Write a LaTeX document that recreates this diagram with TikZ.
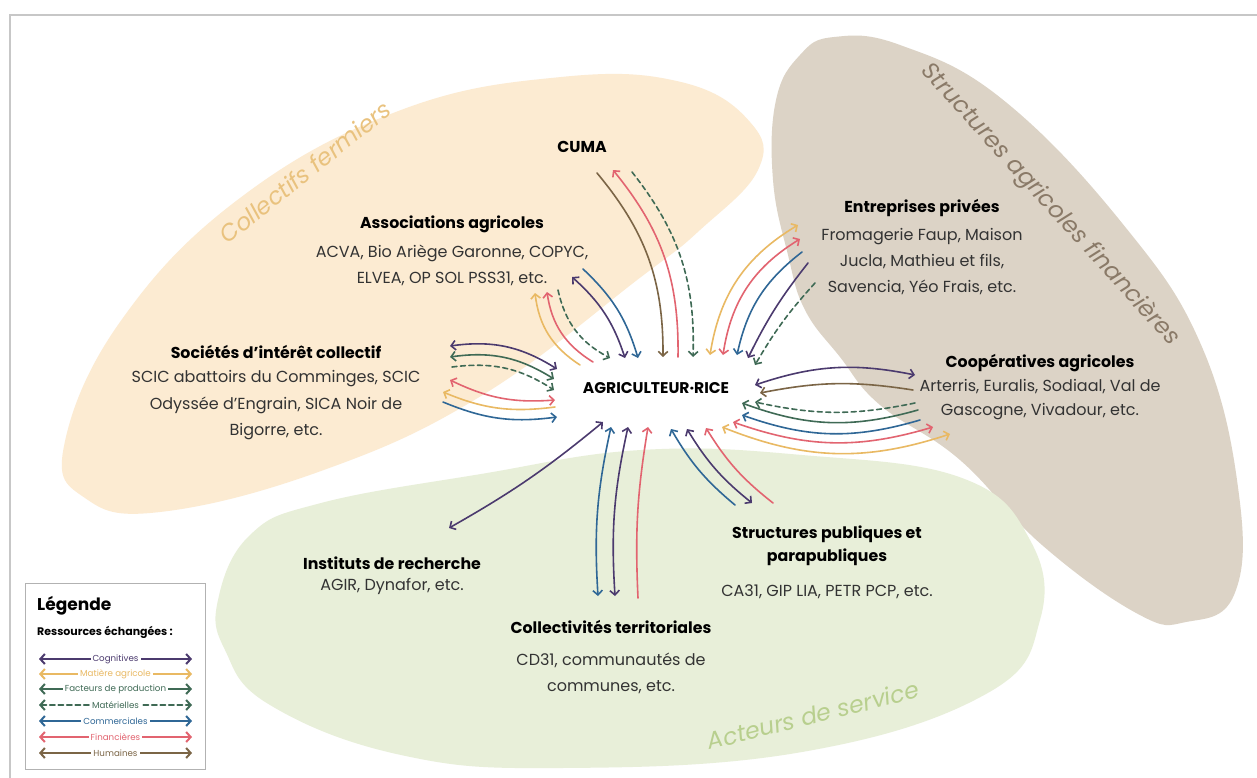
\documentclass[tikz,border=0pt]{standalone}
\usepackage{fontspec}
\setmainfont{Poppins}
\usetikzlibrary{arrows.meta}
\definecolor{cpur}{HTML}{4B3A6E}
\definecolor{cyel}{HTML}{E9B963}
\definecolor{cgrn}{HTML}{3F6A55}
\definecolor{cblu}{HTML}{2F6796}
\definecolor{cred}{HTML}{E26470}
\definecolor{cbrn}{HTML}{7B6546}
\definecolor{ctext}{HTML}{333333}
\definecolor{zbeige}{HTML}{FCEBD2}
\definecolor{zgray}{HTML}{DCD3C6}
\definecolor{zgreen}{HTML}{E8EFD9}
\definecolor{tbeige}{HTML}{E9C27E}
\definecolor{tgray}{HTML}{8A7A68}
\definecolor{tgreen}{HTML}{B8CF8E}
\newcommand\conn[5]{%
  \coordinate (#2a) at (#3); \coordinate (#2b) at (#4);
  \draw[#1] (#2a) to[#5] (#2b);}
\begin{document}
\begin{tikzpicture}[x=1pt,y=1pt,
  cn/.style={line width=1.6pt, line cap=round,
    >={Straight Barb[length=4.5pt,width=9.5pt,line width=1.6pt]}},
  aPur/.style={cn,draw=cpur},
  aYel/.style={cn,draw=cyel},
  aGrn/.style={cn,draw=cgrn},
  aBlu/.style={cn,draw=cblu},
  aRed/.style={cn,draw=cred},
  aBrn/.style={cn,draw=cbrn},
  dsh/.style={dash pattern=on 5pt off 3.5pt},
  ttl/.style={font=\fontsize{15.8}{18}\selectfont\bfseries, text=black, inner sep=0pt},
  bdy/.style={font=\fontsize{16}{26.5}\selectfont, text=ctext, align=center, inner sep=0pt},
  zone/.style={font=\fontsize{23.5}{26}\selectfont\itshape, inner sep=0pt},
  lgl/.style={font=\fontsize{8.7}{10}\selectfont, fill=white, inner xsep=2pt, inner ysep=0pt},
  lga/.style={cn, line width=2pt, >={Straight Barb[length=4.5pt,width=10pt,line width=2pt]}}
]
\useasboundingbox (0,0) rectangle (1257,-777);
\fill[white] (0,0) rectangle (1257,-777);
\draw[black!22, line width=1.5pt] (10,-15) rectangle (1300,-820);

% zones
\fill[zbeige] plot[smooth cycle, tension=0.7] coordinates {
  (64,-446) (120,-322) (240,-198) (401,-110) (561,-77) (681,-82) (750,-122)
  (758,-170) (700,-230) (641,-277) (481,-396) (321,-471) (160,-512) (85,-498)};
\fill[zgray] plot[smooth cycle, tension=0.7] coordinates {
  (834,-37) (900,-45) (1002,-99) (1122,-223) (1202,-347) (1239,-495) (1234,-595)
  (1186,-622) (1138,-614) (1042,-545) (960,-460) (880,-405) (840,-357) (805,-310)
  (788,-255) (773,-180) (776,-100) (800,-55)};
\fill[zgreen] plot[smooth cycle, tension=0.7] coordinates {
  (218,-600) (250,-535) (321,-503) (481,-474) (641,-450) (802,-455) (962,-478)
  (1030,-540) (1040,-620) (986,-694) (802,-752) (561,-768) (401,-755) (270,-705) (225,-650)};

\node[zone, text=tbeige, rotate=38.6] (zcf) at (305,-172) {Collectifs fermiers};
\node[zone, text=tgray, rotate=-47.7] (zsa) at (1050,-205) {Structures agricoles financières};
\node[zone, text=tgreen, rotate=14] (zas) at (813,-715) {Acteurs de service};

% labels
\node[ttl, font=\fontsize{15.5}{18}\selectfont\bfseries] (agr) at (656,-388) {AGRICULTEUR·RICE};
\node[ttl] (cuma) at (582,-147) {CUMA};
\node[ttl] (assT) at (452,-224) {Associations agricoles};
\node[bdy] (ass) at (452,-265.5) {ACVA, Bio Ariège Garonne, COPYC,\\ELVEA, OP SOL PSS31, etc.};
\node[ttl] (socT) at (276,-352) {Sociétés d’intérêt collectif};
\node[bdy] (soc) at (276,-405.5) {SCIC abattoirs du Comminges, SCIC\\Odyssée d’Engrain, SICA Noir de\\Bigorre, etc.};
\node[ttl] (entT) at (922,-208) {Entreprises privées};
\node[bdy, font=\fontsize{16}{26}\selectfont] (ent) at (922,-262) {Fromagerie Faup, Maison\\Jucla, Mathieu et fils,\\Savencia, Yéo Frais, etc.};
\node[ttl] (coopT) at (1040,-363) {Coopératives agricoles};
\node[bdy, font=\fontsize{16}{24}\selectfont] (coop) at (1040,-400) {Arterris, Euralis, Sodiaal, Val de\\Gascogne, Vivadour, etc.};
\node[ttl] (instT) at (392,-563) {Instituts de recherche};
\node[bdy] (inst) at (392,-586) {AGIR, Dynafor, etc.};
\node[ttl, align=center, font=\fontsize{15.8}{23}\selectfont\bfseries] (pubT) at (827,-545.5) {Structures publiques et\\parapubliques};
\node[bdy] (pub) at (827,-592) {CA31, GIP LIA, PETR PCP, etc.};
\node[ttl] (colT) at (611,-627) {Collectivités territoriales};
\node[bdy, font=\fontsize{16}{26}\selectfont] (col) at (611,-673) {CD31, communautés de\\communes, etc.};

% CUMA
\conn{aBrn,->}{cu1}{597,-173}{663,-357}{bend left=20}
\conn{aRed,<-}{cu2}{613,-170}{678,-357}{bend left=20}
\conn{aGrn,dsh,->}{cu3}{632,-172}{693,-357}{bend left=20}
% Associations
\conn{aYel,<-}{as1}{535,-293}{580,-365}{bend right=25}
\conn{aRed,<-}{as2}{547,-292}{593,-362}{bend right=25}
\conn{aGrn,dsh,->}{as3}{558,-290}{610,-358}{bend right=25}
\conn{aPur,<->}{as4}{572,-277}{625,-358}{bend left=15}
\conn{aBlu,->}{as5}{583,-269}{638,-358}{bend left=15}
% Societes
\conn{aPur,<->}{so1}{450,-346}{557,-369}{bend left=20}
\conn{aGrn,<->}{so2}{450,-357}{554,-379}{bend left=20}
\conn{aGrn,dsh,->}{so3}{452,-367}{554,-390}{bend left=20}
\conn{aRed,<->}{so4}{450,-380}{555,-400}{bend right=15}
\conn{aYel,<-}{so5}{443,-392}{555,-407}{bend right=15}
\conn{aBlu,->}{so6}{443,-402}{557,-417}{bend right=15}
% Entreprises
\conn{aYel,<->}{en1}{798,-225}{710,-355}{bend right=25}
\conn{aRed,<->}{en2}{800,-239}{723,-355}{bend right=25}
\conn{aBlu,->}{en3}{802,-252}{737,-355}{bend right=20}
\conn{aPur,->}{en4}{808,-263}{748,-358}{bend right=6}
\conn{aGrn,dsh,->}{en5}{815,-283}{755,-365}{bend right=6}
% Cooperatives
\conn{aPur,<->}{co1}{915,-375}{755,-385}{bend right=15}
\conn{aBrn,->}{co2}{913,-390}{760,-393}{bend right=10}
\conn{aGrn,dsh,->}{co3}{915,-403}{755,-402}{bend left=12}
\conn{aGrn,->}{co4}{918,-410}{742,-403}{bend left=18}
\conn{aBlu,->}{co5}{920,-420}{742,-415}{bend left=18}
\conn{aRed,<->}{co6}{933,-427}{733,-422}{bend left=18}
\conn{aYel,<->}{co7}{950,-434}{722,-427}{bend left=20}
% Structures publiques
\conn{aBlu,->}{sp1}{735,-505}{671,-429}{bend left=10}
\conn{aPur,<->}{sp2}{752,-503}{687,-429}{bend left=10}
\conn{aRed,->}{sp3}{773,-503}{706,-428}{bend left=10}
% Instituts
\conn{aPur,<->}{in1}{449,-528}{603,-422}{bend right=5}
% Collectivites
\conn{aBlu,<->}{cl1}{598,-596}{611,-427}{bend left=8}
\conn{aPur,<->}{cl2}{615,-596}{628,-427}{bend left=8}
\conn{aRed,->}{cl3}{638,-598}{648,-427}{bend left=6}

% legend
\node[draw=black!30, fill=white, line width=0.8pt, minimum width=180pt, minimum height=186pt, inner sep=0pt] (lgbox) at (115,-676) {};
\node[anchor=west, inner sep=0pt, font=\fontsize{17}{20}\selectfont\bfseries] (lgT) at (37,-606) {Légende};
\node[anchor=west, inner sep=0pt, font=\fontsize{11}{13}\selectfont\bfseries] (lgS) at (37,-632) {Ressources échangées :};
\coordinate (l1a) at (39,-659); \coordinate (l1b) at (192,-659);
\coordinate (l2a) at (39,-674); \coordinate (l2b) at (192,-674);
\coordinate (l3a) at (39,-689); \coordinate (l3b) at (192,-689);
\coordinate (l4a) at (39,-705); \coordinate (l4b) at (192,-705);
\coordinate (l5a) at (39,-721); \coordinate (l5b) at (192,-721);
\coordinate (l6a) at (39,-737); \coordinate (l6b) at (192,-737);
\coordinate (l7a) at (39,-753); \coordinate (l7b) at (192,-753);
\draw[lga,draw=cpur,<->] (l1a) -- node[lgl,text=cpur] {Cognitives} (l1b);
\draw[lga,draw=cyel,<->] (l2a) -- node[lgl,text=cyel] {Matière agricole} (l2b);
\draw[lga,draw=cgrn,<->] (l3a) -- node[lgl,text=cgrn] {Facteurs de production} (l3b);
\draw[lga,draw=cgrn,dsh,<->] (l4a) -- node[lgl,text=cgrn] {Matérielles} (l4b);
\draw[lga,draw=cblu,<->] (l5a) -- node[lgl,text=cblu] {Commerciales} (l5b);
\draw[lga,draw=cred,<->] (l6a) -- node[lgl,text=cred] {Financières} (l6b);
\draw[lga,draw=cbrn,<->] (l7a) -- node[lgl,text=cbrn] {Humaines} (l7b);
\end{tikzpicture}
\end{document}
